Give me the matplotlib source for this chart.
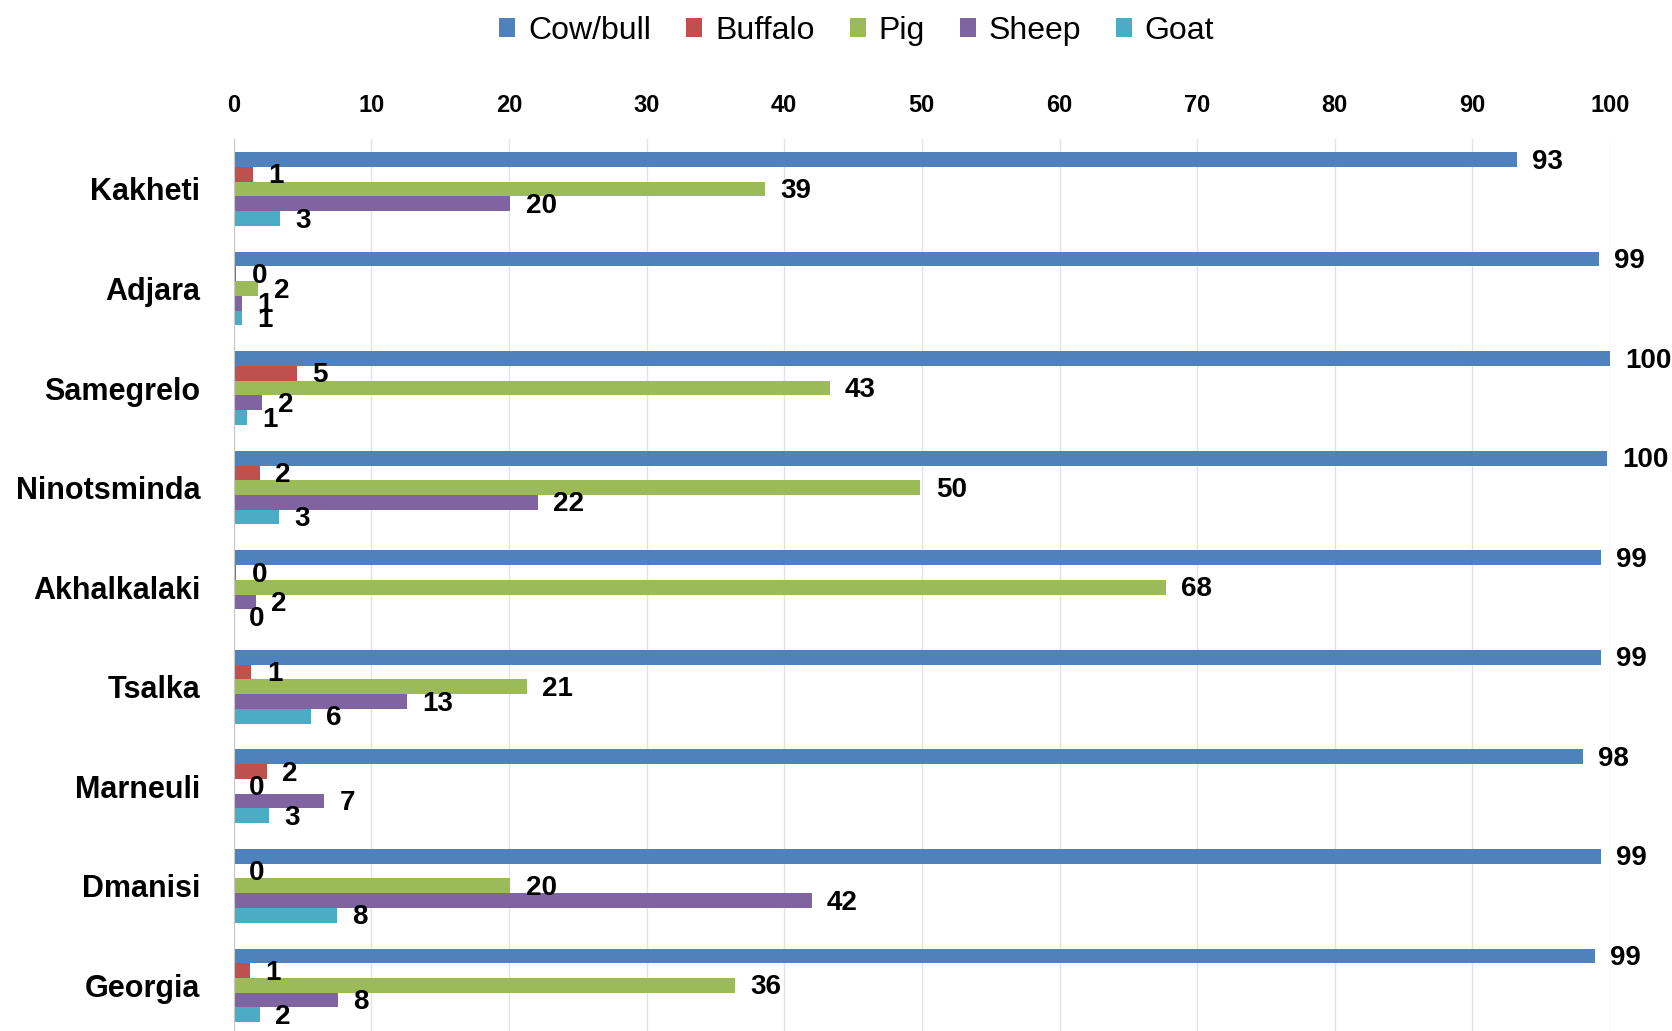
import numpy as np
import matplotlib.pyplot as plt
from matplotlib.patches import Patch

# regioes (de cima para baixo)
regioes = ['Kakheti', 'Adjara', 'Samegrelo', 'Ninotsminda', 'Akhalkalaki',
           'Tsalka', 'Marneuli', 'Dmanisi', 'Georgia']

# valores (%)
cow = [93.2, 99.2, 100.0, 99.8, 99.3, 99.3, 98.0, 99.3, 98.9]
buffalo = [1.4, 0.2, 4.6, 1.9, 0.2, 1.3, 2.4, 0.0, 1.2]
pig = [38.6, 1.8, 43.3, 49.9, 67.7, 21.3, 0.0, 20.1, 36.4]
sheep = [20.1, 0.6, 2.1, 22.1, 1.6, 12.6, 6.6, 42.0, 7.6]
goat = [3.4, 0.6, 1.0, 3.3, 0.0, 5.6, 2.6, 7.5, 1.9]

series = ['Cow/bull', 'Buffalo', 'Pig', 'Sheep', 'Goat']
cores = ['#4F81BD', '#C0504D', '#9BBB59', '#8064A2', '#4BACC6']
xticks = [0, 10, 20, 30, 40, 50, 60, 70, 80, 90, 100]

plt.rcParams['font.family'] = ['Liberation Sans', 'DejaVu Sans']

fig = plt.figure(figsize=(16.72, 10.31), dpi=100)
ax = fig.add_axes([0.1397, -0.004, 0.8233, 0.869])

h = 0.148
y = np.arange(len(regioes))
dados = [cow, buffalo, pig, sheep, goat]

for k, (vals, cor) in enumerate(zip(dados, cores)):
    pos = y + (k - 2) * h
    ax.barh(pos, vals, height=h, color=cor)
    # rotulos de dados
    for p, v in zip(pos, vals):
        ax.annotate(f'{round(v):d}', xy=(v, p), xytext=(11, -1.5),
                    textcoords='offset points', va='center', ha='left',
                    fontsize=20, fontweight='bold', color='black')

ax.set_xlim(0, 100)
ax.set_ylim(len(regioes) - 0.5, -0.5)
ax.set_xticks(xticks)
ax.xaxis.tick_top()
ax.tick_params(axis='x', length=0, pad=16, labelsize=17)
for lbl in ax.get_xticklabels():
    lbl.set_fontweight('bold')
ax.set_yticks(y)
ax.set_yticklabels(regioes, fontsize=22, fontweight='bold')
ax.tick_params(axis='y', length=0, pad=24)

ax.grid(axis='x', color='#e3e3e3', linewidth=1)
ax.set_axisbelow(True)
for s in ['top', 'right', 'bottom']:
    ax.spines[s].set_visible(False)
ax.spines['left'].set_color('#c8c8c8')

handles = [Patch(facecolor=c, label=s) for s, c in zip(series, cores)]
fig.legend(handles=handles, loc='center', bbox_to_anchor=(0.5125, 0.970),
           ncol=5, frameon=False, fontsize=23, handlelength=0.5,
           handleheight=0.5, handletextpad=0.4, columnspacing=1.1)

plt.savefig('out.png', dpi=100)
